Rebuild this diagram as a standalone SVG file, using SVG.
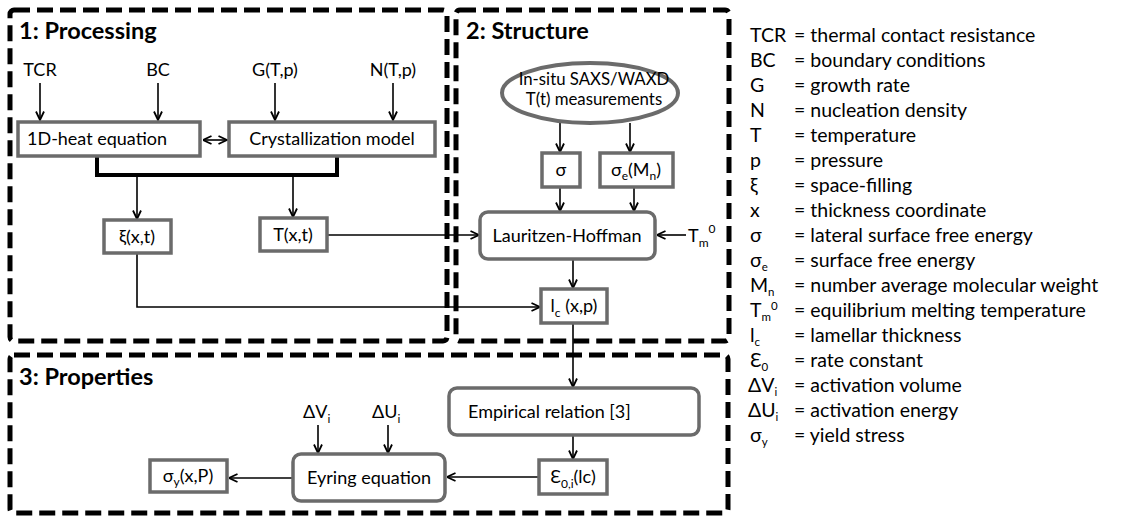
<svg xmlns="http://www.w3.org/2000/svg" width="1122" height="516" viewBox="0 0 1122 516">
<style>
text{font-family:Lato,"Open Sans","Liberation Sans",sans-serif;fill:#000}
.t{font-size:18px}
.e{font-size:16.8px}
.c{text-anchor:middle}
.h{font-size:23.5px;font-weight:bold}
.lg{font-size:19.5px}
.s{font-size:12px}
.ls{font-size:11.5px}
.grp{fill:none;stroke:#000;stroke-width:5;stroke-dasharray:16 7}
.bx{fill:#fff;stroke:#6b6b6b;stroke-width:3.5}
.ln{fill:none;stroke:#000;stroke-width:1.6}
.bus{fill:none;stroke:#000;stroke-width:4}
</style>
<defs>
<marker id="a" viewBox="0 0 10 10" refX="9.5" refY="5" markerWidth="10" markerHeight="10" markerUnits="userSpaceOnUse" orient="auto-start-reverse">
<path d="M1,1 L9.5,5 L1,9" fill="none" stroke="#000" stroke-width="1.8"/>
</marker>
</defs>
<rect width="1122" height="516" fill="#fff"/>

<g id="groups">
<rect class="grp" x="10" y="10" width="437" height="331" rx="4"/>
<rect class="grp" x="456" y="10" width="273" height="331" rx="4"/>
<rect class="grp" x="10" y="355" width="718" height="158" rx="4"/>
<text class="h" x="19" y="39">1: Processing</text>
<text class="h" x="466" y="39">2: Structure</text>
<text class="h" x="19" y="385">3: Properties</text>
</g>

<g id="connectors">
<line class="ln" x1="40" y1="83" x2="40" y2="120" marker-end="url(#a)"/>
<line class="ln" x1="158" y1="83" x2="158" y2="120" marker-end="url(#a)"/>
<line class="ln" x1="275" y1="83" x2="275" y2="120" marker-end="url(#a)"/>
<line class="ln" x1="393" y1="83" x2="393" y2="120" marker-end="url(#a)"/>
<line class="ln" x1="203" y1="140" x2="227" y2="140" marker-start="url(#a)" marker-end="url(#a)"/>
<path class="bus" d="M97,156 V175 H337 V156"/>
<line class="ln" x1="137" y1="175" x2="137" y2="219" marker-end="url(#a)"/>
<line class="ln" x1="293" y1="175" x2="293" y2="217" marker-end="url(#a)"/>
<path class="ln" d="M327,235 H479" marker-end="url(#a)"/>
<path class="ln" d="M137,253 V307 H540" marker-end="url(#a)"/>
<line class="ln" x1="560" y1="123" x2="560" y2="152" marker-end="url(#a)"/>
<line class="ln" x1="630" y1="123" x2="630" y2="152" marker-end="url(#a)"/>
<line class="ln" x1="560" y1="187" x2="560" y2="211" marker-end="url(#a)"/>
<line class="ln" x1="634" y1="187" x2="634" y2="211" marker-end="url(#a)"/>
<line class="ln" x1="686" y1="235" x2="657" y2="235" marker-end="url(#a)"/>
<line class="ln" x1="573" y1="259" x2="573" y2="288" marker-end="url(#a)"/>
<line class="ln" x1="573" y1="323" x2="573" y2="387" marker-end="url(#a)"/>
<line class="ln" x1="573" y1="435" x2="573" y2="459" marker-end="url(#a)"/>
<line class="ln" x1="539" y1="477" x2="447" y2="477" marker-end="url(#a)"/>
<line class="ln" x1="318" y1="425" x2="318" y2="453" marker-end="url(#a)"/>
<line class="ln" x1="388" y1="425" x2="388" y2="453" marker-end="url(#a)"/>
<line class="ln" x1="292" y1="478" x2="229" y2="478" marker-end="url(#a)"/>
</g>

<g id="inputs">
<text class="t c" x="40" y="76">TCR</text>
<text class="t c" x="158" y="76">BC</text>
<text class="t c" x="275" y="76">G(T,p)</text>
<text class="t c" x="393" y="76">N(T,p)</text>
<text class="t" x="688" y="242">T<tspan class="s" dy="5">m</tspan><tspan class="s" dy="-14">0</tspan></text>
<text class="t" x="303" y="418">ΔV<tspan class="s" dy="5">i</tspan></text>
<text class="t" x="372" y="418">ΔU<tspan class="s" dy="5">i</tspan></text>
</g>

<g id="heat">
<rect class="bx" x="18" y="122" width="182" height="34"/>
<text class="t" x="27" y="145">1D-heat equation</text>
</g>
<g id="cryst">
<rect class="bx" x="229" y="122" width="206" height="34"/>
<text class="t c" x="332" y="145">Crystallization model</text>
</g>
<g id="xi">
<rect class="bx" x="104" y="220" width="67" height="33"/>
<text class="t c" x="137" y="243">ξ(x,t)</text>
</g>
<g id="Txt">
<rect class="bx" x="260" y="218" width="67" height="33"/>
<text class="t c" x="293" y="241">T(x,t)</text>
</g>
<g id="saxs">
<ellipse cx="590" cy="93" rx="88" ry="30" fill="#fff" stroke="#6b6b6b" stroke-width="4"/>
<text class="e c" x="594" y="85">In-situ SAXS/WAXD</text>
<text class="e c" x="594" y="105">T(t) measurements</text>
</g>
<g id="sigma">
<rect class="bx" x="542" y="153" width="38" height="34"/>
<text class="t c" x="561" y="176">σ</text>
</g>
<g id="sigmae">
<rect class="bx" x="600" y="153" width="73" height="34"/>
<text class="t c" x="636" y="176">σ<tspan class="s" dy="4">e</tspan><tspan dy="-4">(M</tspan><tspan class="s" dy="4">n</tspan><tspan dy="-4">)</tspan></text>
</g>
<g id="lh">
<rect class="bx" x="480" y="212" width="175" height="47" rx="8"/>
<text class="t c" x="567" y="242">Lauritzen-Hoffman</text>
</g>
<g id="lc">
<rect class="bx" x="541" y="289" width="66" height="34"/>
<text class="t c" x="574" y="312">l<tspan class="s" dy="5">c</tspan><tspan dy="-5"> (x,p)</tspan></text>
</g>
<g id="empirical">
<rect class="bx" x="449" y="388" width="250" height="47" rx="8"/>
<text class="t" x="468" y="418">Empirical relation [3]</text>
</g>
<g id="eps">
<rect class="bx" x="539" y="460" width="68" height="34"/>
<text class="t c" x="573" y="483">Ɛ<tspan class="s" dy="5">0,i</tspan><tspan dy="-5">(lc)</tspan></text>
</g>
<g id="eyring">
<rect class="bx" x="293" y="454" width="152" height="47" rx="8"/>
<text class="t c" x="369" y="484">Eyring equation</text>
</g>
<g id="sigmay">
<rect class="bx" x="150" y="460" width="77" height="32"/>
<text class="t c" x="188" y="482">σ<tspan class="s" dy="4">y</tspan><tspan dy="-4">(x,P)</tspan></text>
</g>

<g id="legend">
<text class="lg" x="750" y="42">TCR</text><text class="lg" x="794" y="42">= thermal contact resistance</text>
<text class="lg" x="750" y="67">BC</text><text class="lg" x="794" y="67">= boundary conditions</text>
<text class="lg" x="750" y="92">G</text><text class="lg" x="794" y="92">= growth rate</text>
<text class="lg" x="750" y="117">N</text><text class="lg" x="794" y="117">= nucleation density</text>
<text class="lg" x="750" y="142">T</text><text class="lg" x="794" y="142">= temperature</text>
<text class="lg" x="750" y="167">p</text><text class="lg" x="794" y="167">= pressure</text>
<text class="lg" x="750" y="192">ξ</text><text class="lg" x="794" y="192">= space-filling</text>
<text class="lg" x="750" y="217">x</text><text class="lg" x="794" y="217">= thickness coordinate</text>
<text class="lg" x="750" y="242">σ</text><text class="lg" x="794" y="242">= lateral surface free energy</text>
<text class="lg" x="750" y="267">σ<tspan class="ls" dy="4">e</tspan></text><text class="lg" x="794" y="267">= surface free energy</text>
<text class="lg" x="750" y="292">M<tspan class="ls" dy="4">n</tspan></text><text class="lg" x="794" y="292">= number average molecular weight</text>
<text class="lg" x="750" y="317">T<tspan class="ls" dy="4">m</tspan><tspan class="ls" dy="-11">0</tspan></text><text class="lg" x="794" y="317">= equilibrium melting temperature</text>
<text class="lg" x="750" y="342">l<tspan class="ls" dy="4">c</tspan></text><text class="lg" x="794" y="342">= lamellar thickness</text>
<text class="lg" x="750" y="367">Ɛ<tspan class="ls" dy="4">0</tspan></text><text class="lg" x="794" y="367">= rate constant</text>
<text class="lg" x="748" y="392">ΔV<tspan class="ls" dy="4">i</tspan></text><text class="lg" x="794" y="392">= activation volume</text>
<text class="lg" x="748" y="417">ΔU<tspan class="ls" dy="4">i</tspan></text><text class="lg" x="794" y="417">= activation energy</text>
<text class="lg" x="750" y="442">σ<tspan class="ls" dy="4">y</tspan></text><text class="lg" x="794" y="442">= yield stress</text>
</g>
</svg>
